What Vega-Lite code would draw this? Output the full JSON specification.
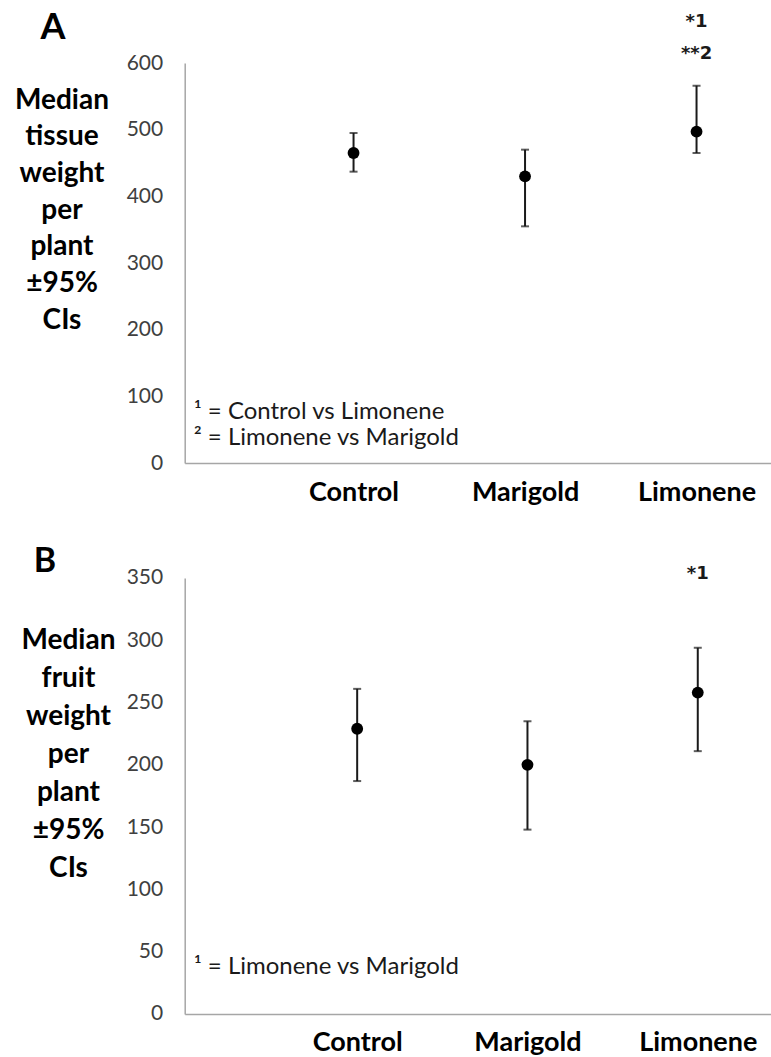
{
  "$schema": "https://vega.github.io/schema/vega-lite/v6.json",
  "background": "white",
  "padding": {"left": 13.7, "top": 9, "right": 0, "bottom": 0},
  "spacing": 40,
  "config": {
    "view": {"stroke": null},
    "font": "Lato",
    "text": {"font": "Lato"}
  },
  "datasets": {
    "tissue": [
      {"treatment": "Control", "median": 465, "lo": 437, "hi": 495},
      {"treatment": "Marigold", "median": 430, "lo": 355, "hi": 470},
      {"treatment": "Limonene", "median": 497, "lo": 465, "hi": 566}
    ],
    "tissueSig": [
      {"treatment": "Limonene", "label": "*1", "pos": 662},
      {"treatment": "Limonene", "label": "**2", "pos": 613}
    ],
    "tissueNote": [
      {"label": "¹ = Control vs Limonene", "pos": 77},
      {"label": "² = Limonene vs Marigold", "pos": 37}
    ],
    "fruit": [
      {"treatment": "Control", "median": 229, "lo": 187, "hi": 261},
      {"treatment": "Marigold", "median": 200, "lo": 148, "hi": 235},
      {"treatment": "Limonene", "median": 258, "lo": 211, "hi": 294}
    ],
    "fruitSig": [
      {"treatment": "Limonene", "label": "*1", "pos": 353}
    ],
    "fruitNote": [
      {"label": "¹ = Limonene vs Marigold", "pos": 38}
    ]
  },
  "vconcat": [
    {
      "width": 587,
      "height": 400,
      "title": {"text": "A", "anchor": "start", "frame": "group", "dx": -144.2, "offset": -34, "fontSize": 36, "fontWeight": "bold", "font": "Lato", "color": "black"},
      "layer": [
        {
          "data": {"name": "tissue"},
          "encoding": {
            "x": {"field": "treatment", "type": "nominal",
              "scale": {"type": "point", "domain": ["Control", "Marigold", "Limonene"], "padding": 0.7114, "align": 0.692},
              "axis": {"title": null, "labelAngle": 0, "ticks": false, "domainColor": "#a6a6a6", "domainWidth": 1.5, "labelFontSize": 27, "labelFontWeight": "bold", "labelColor": "black", "labelFont": "Lato", "labelPadding": 16}},
            "y": {"type": "quantitative", "scale": {"domain": [0, 600]},
              "axis": {"values": [0, 100, 200, 300, 400, 500, 600], "grid": false, "ticks": false, "domainColor": "#a6a6a6", "domainWidth": 1.5, "labelFontSize": 21, "labelColor": "#404040", "labelFont": "Lato", "labelPadding": 22,
                "title": ["Median", "tissue", "weight", "per", "plant", "±95%", "CIs"], "titleAngle": 0, "titleAlign": "center", "titleBaseline": "middle", "titleX": -123.2, "titleY": 37, "titleFontSize": 28, "titleFontWeight": "bold", "titleFont": "Lato", "titleColor": "black", "titleLineHeight": 36.7}}
          },
          "layer": [
            {"mark": {"type": "rule", "color": "#1a1a1a", "strokeWidth": 2}, "encoding": {"y": {"field": "lo"}, "y2": {"field": "hi"}}},
            {"mark": {"type": "tick", "color": "#1a1a1a", "thickness": 2, "size": 8}, "encoding": {"y": {"field": "lo"}}},
            {"mark": {"type": "tick", "color": "#1a1a1a", "thickness": 2, "size": 8}, "encoding": {"y": {"field": "hi"}}},
            {"mark": {"type": "point", "filled": true, "color": "black", "opacity": 1, "size": 140}, "encoding": {"y": {"field": "median"}}},
            {"data": {"name": "tissueSig"}, "mark": {"type": "text", "font": "DejaVu Sans", "fontSize": 18, "fontWeight": "bold", "color": "#1a1a1a", "align": "center", "baseline": "middle", "clip": false}, "encoding": {"y": {"field": "pos"}, "text": {"field": "label"}}}
          ]
        },
        {
          "data": {"name": "tissueNote"},
          "mark": {"type": "text", "align": "left", "baseline": "middle", "fontSize": 24, "color": "#1a1a1a", "dx": 9},
          "encoding": {
            "x": {"datum": 0, "type": "quantitative", "scale": {"domain": [0, 1]}, "axis": null},
            "y": {"field": "pos", "type": "quantitative"},
            "text": {"field": "label"}
          }
        }
      ],
      "resolve": {"scale": {"x": "independent"}}
    },
    {
      "width": 587,
      "height": 436,
      "title": {"text": "B", "anchor": "start", "frame": "group", "dx": -151, "offset": -14, "fontSize": 34, "fontWeight": "bold", "font": "Lato", "color": "black"},
      "layer": [
        {
          "data": {"name": "fruit"},
          "encoding": {
            "x": {"field": "treatment", "type": "nominal",
              "scale": {"type": "point", "domain": ["Control", "Marigold", "Limonene"], "padding": 0.7234, "align": 0.7},
              "axis": {"title": null, "labelAngle": 0, "ticks": false, "domainColor": "#a6a6a6", "domainWidth": 1.5, "labelFontSize": 27, "labelFontWeight": "bold", "labelColor": "black", "labelFont": "Lato", "labelPadding": 16}},
            "y": {"type": "quantitative", "scale": {"domain": [0, 350]},
              "axis": {"values": [0, 50, 100, 150, 200, 250, 300, 350], "grid": false, "ticks": false, "domainColor": "#a6a6a6", "domainWidth": 1.5, "labelFontSize": 21, "labelColor": "#404040", "labelFont": "Lato", "labelPadding": 22,
                "title": ["Median", "fruit", "weight", "per", "plant", "±95%", "CIs"], "titleAngle": 0, "titleAlign": "center", "titleBaseline": "middle", "titleX": -116.7, "titleY": 62.5, "titleFontSize": 28, "titleFontWeight": "bold", "titleFont": "Lato", "titleColor": "black", "titleLineHeight": 38}}
          },
          "layer": [
            {"mark": {"type": "rule", "color": "#1a1a1a", "strokeWidth": 2}, "encoding": {"y": {"field": "lo"}, "y2": {"field": "hi"}}},
            {"mark": {"type": "tick", "color": "#1a1a1a", "thickness": 2, "size": 8}, "encoding": {"y": {"field": "lo"}}},
            {"mark": {"type": "tick", "color": "#1a1a1a", "thickness": 2, "size": 8}, "encoding": {"y": {"field": "hi"}}},
            {"mark": {"type": "point", "filled": true, "color": "black", "opacity": 1, "size": 140}, "encoding": {"y": {"field": "median"}}},
            {"data": {"name": "fruitSig"}, "mark": {"type": "text", "font": "DejaVu Sans", "fontSize": 18, "fontWeight": "bold", "color": "#1a1a1a", "align": "center", "baseline": "middle", "clip": false}, "encoding": {"y": {"field": "pos"}, "text": {"field": "label"}}}
          ]
        },
        {
          "data": {"name": "fruitNote"},
          "mark": {"type": "text", "align": "left", "baseline": "middle", "fontSize": 24, "color": "#1a1a1a", "dx": 9},
          "encoding": {
            "x": {"datum": 0, "type": "quantitative", "scale": {"domain": [0, 1]}, "axis": null},
            "y": {"field": "pos", "type": "quantitative"},
            "text": {"field": "label"}
          }
        }
      ],
      "resolve": {"scale": {"x": "independent"}}
    }
  ]
}
